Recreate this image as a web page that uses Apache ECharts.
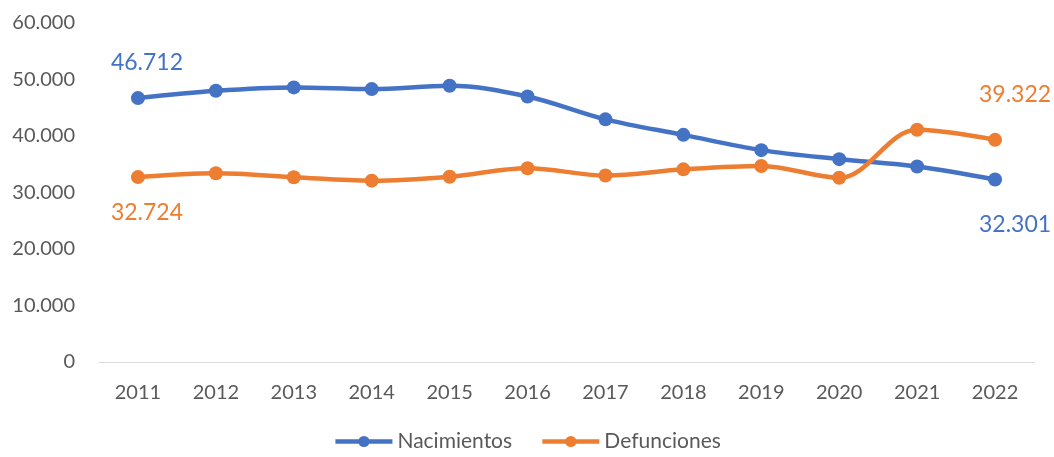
<!DOCTYPE html>
<html><head><meta charset="utf-8">
<script src="https://cdn.jsdelivr.net/npm/echarts@6/dist/echarts.min.js"></script>
<style>html,body{margin:0;padding:0;background:#fff}#c{width:1054px;height:457px}</style>
</head><body><div id="c"></div>
<script>
const years = ['2011','2012','2013','2014','2015','2016','2017','2018','2019','2020','2021','2022'];
const nacimientos = [46712, 48000, 48600, 48300, 48900, 47000, 42950, 40200, 37500, 35900, 34600, 32301];
const defunciones = [32724, 33400, 32700, 32100, 32800, 34300, 33000, 34100, 34700, 32600, 41100, 39322];
const fmt = v => String(Math.round(v)).replace(/\B(?=(\d{3})+(?!\d))/g, '.');
const FONT = 'Lato, "Open Sans", sans-serif';
function labelled(data, color, firstPos, lastPos) {
  return data.map((v, i) => {
    if (i === 0 || i === data.length - 1) {
      const pos = i === 0 ? firstPos : lastPos;
      return {value: v, label: {show: true, position: pos.p, offset: pos.o, color: color, fontSize: 23, fontFamily: FONT, formatter: p => fmt(p.value)}};
    }
    return v;
  });
}
const chart = echarts.init(document.getElementById('c'));
chart.setOption({
  animation: false,
  grid: {left: 99, right: 20, top: 23, bottom: 95},
  legend: {bottom: 0, itemWidth: 57, itemHeight: 14, itemGap: 28,
    lineStyle: {width: 4.5},
    textStyle: {fontSize: 21, color: '#595959', fontFamily: FONT},
    data: ['Nacimientos', 'Defunciones']},
  xAxis: {type: 'category', data: years, boundaryGap: true,
    axisLine: {lineStyle: {color: '#d9d9d9', width: 1}}, axisTick: {show: false},
    axisLabel: {fontSize: 20, color: '#595959', fontFamily: FONT, margin: 21}},
  yAxis: {type: 'value', min: 0, max: 60000, interval: 10000,
    splitLine: {show: false}, axisLine: {show: false}, axisTick: {show: false},
    axisLabel: {fontSize: 20, color: '#595959', fontFamily: FONT, margin: 24, formatter: fmt}},
  series: [
    {name: 'Nacimientos', type: 'line', smooth: 0.35, symbol: 'circle', symbolSize: 14,
      lineStyle: {width: 4.5, color: '#4472C4'}, itemStyle: {color: '#4472C4'},
      data: labelled(nacimientos, '#4472C4', {p: 'top', o: [9, -12]}, {p: 'bottom', o: [20, 22]})},
    {name: 'Defunciones', type: 'line', smooth: 0.35, symbol: 'circle', symbolSize: 14,
      lineStyle: {width: 4.5, color: '#ED7D31'}, itemStyle: {color: '#ED7D31'},
      data: labelled(defunciones, '#ED7D31', {p: 'bottom', o: [9, 12]}, {p: 'top', o: [20, -22]})}
  ]
});
</script></body></html>
